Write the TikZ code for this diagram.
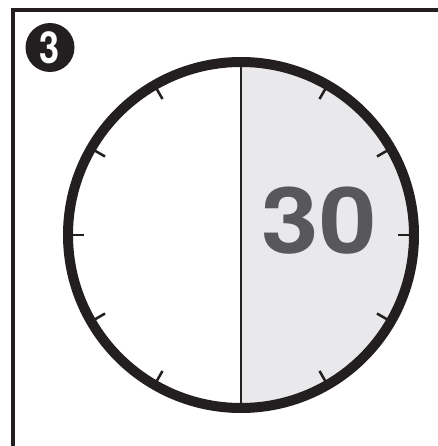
\documentclass[tikz,border=0pt]{standalone}
\usepackage{fontspec}
\setsansfont{TeX Gyre Heros}
\definecolor{facegray}{HTML}{E9E9EB}
\definecolor{numgray}{HTML}{58585A}
\definecolor{inkblack}{HTML}{231F20}
\tikzset{
  tick/.style={inkblack,line width=1.9pt},
  rim/.style={inkblack,line width=7.5pt}
}
\begin{document}
\begin{tikzpicture}[x=0.75pt,y=-0.75pt]
\useasboundingbox (0,0) rectangle (438,446);
% frame (top and left edge)
\draw[inkblack,line width=3pt] (13,446) -- (13,10) -- (438,10);
% step badge
\fill[inkblack] (50,47.5) circle (24.5);
\node[white,font=\sffamily\bfseries\fontsize{33}{33}\selectfont] (step) at (50,48) {\scalebox{0.82}[1]{3}};
% clock face
\coordinate (c) at (241,235);
\coordinate (top) at (241,62);
\coordinate (bot) at (241,408);
\begin{scope}
  \clip (241,0) rectangle (438,446);
  \fill[facegray] (c) circle (173);
\end{scope}
\draw[inkblack,line width=1.5pt] (top) -- (bot);
\foreach \a in {0,30,60,120,150,180,210,240,300,330}
  \draw[tick] ([shift={(\a:157)}]c) -- ([shift={(\a:170)}]c);
\draw[rim] (c) circle (173);
% minutes
\node[numgray,font=\sffamily\bfseries\fontsize{69}{69}\selectfont] (minutes) at (319,221) {\scalebox{1.12}[1]{30}};
\end{tikzpicture}
\end{document}
